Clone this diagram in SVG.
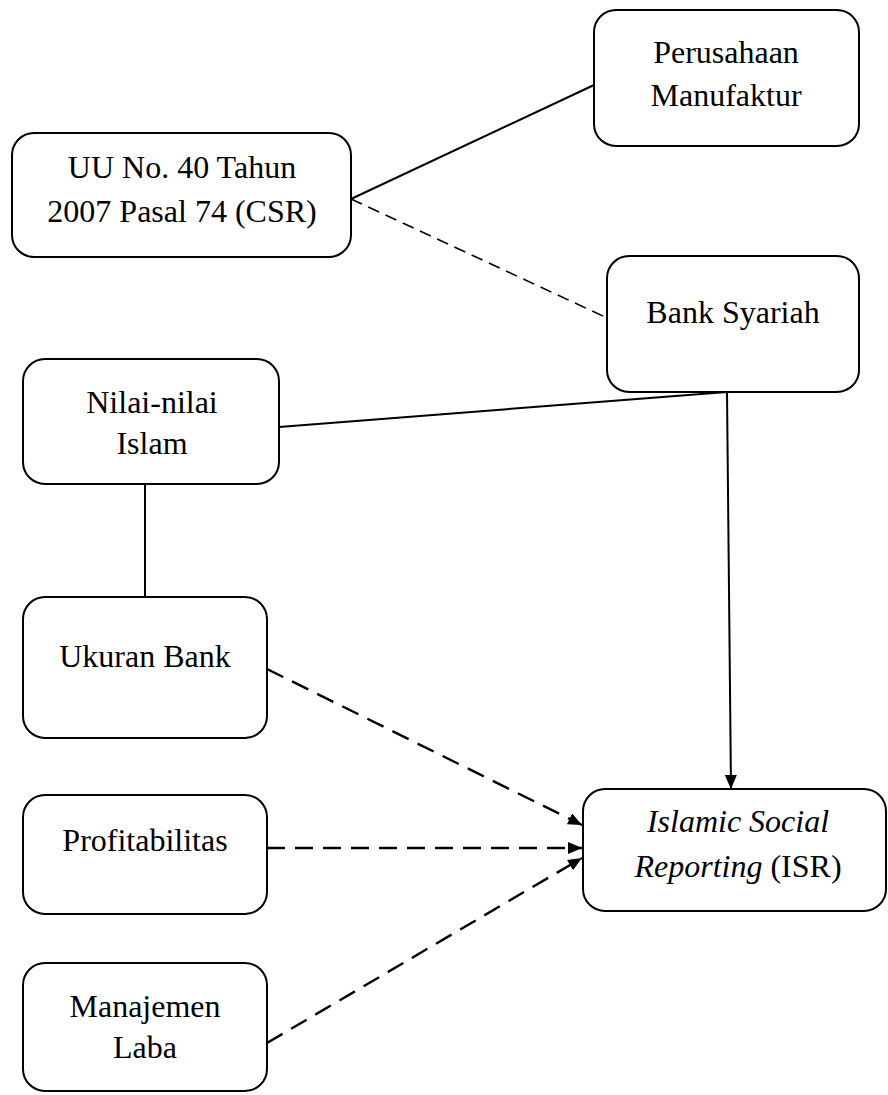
<svg xmlns="http://www.w3.org/2000/svg" width="888" height="1095" viewBox="0 0 888 1095">
  <style>
    .box { fill: #ffffff; stroke: #000000; stroke-width: 2; }
    .lbl { font-family: "Liberation Serif", "Times New Roman", serif; font-size: 32px; fill: #000000; text-anchor: middle; }
    .it { font-style: italic; }
    .solid { stroke: #000000; stroke-width: 2; fill: none; }
    .dash1 { stroke: #000000; stroke-width: 1.6; fill: none; stroke-dasharray: 12 7; }
    .dash2 { stroke: #000000; stroke-width: 2.4; fill: none; stroke-dasharray: 18 10; }
  </style>
  <defs>
    <marker id="arr" viewBox="0 0 14 12" refX="14" refY="6" markerWidth="14" markerHeight="12" markerUnits="userSpaceOnUse" orient="auto">
      <path d="M0,0 L14,6 L0,12 Z" fill="#000000"/>
    </marker>
  </defs>
  <rect width="888" height="1095" fill="#ffffff"/>

  <g id="connectors">
    <line class="solid" x1="351" y1="199" x2="594" y2="85"/>
    <line class="dash1" x1="351" y1="199" x2="605" y2="317"/>
    <line class="solid" x1="279" y1="427" x2="727" y2="392"/>
    <line class="solid" x1="145" y1="484" x2="145" y2="597"/>
    <line class="solid" x1="727" y1="392" x2="731" y2="789" marker-end="url(#arr)"/>
    <line class="dash2" x1="267" y1="669" x2="582" y2="825" marker-end="url(#arr)"/>
    <line class="dash2" x1="267" y1="848" x2="582" y2="848" marker-end="url(#arr)"/>
    <line class="dash2" x1="267" y1="1043" x2="582" y2="858" marker-end="url(#arr)"/>
  </g>

  <g id="node-perusahaan">
    <rect class="box" x="594" y="10" width="265" height="136" rx="22"/>
    <text class="lbl" x="726" y="63">Perusahaan</text>
    <text class="lbl" x="726" y="106">Manufaktur</text>
  </g>

  <g id="node-uu">
    <rect class="box" x="12" y="133" width="339" height="124" rx="22"/>
    <text class="lbl" x="182" y="178">UU No. 40 Tahun</text>
    <text class="lbl" x="182" y="222">2007 Pasal 74 (CSR)</text>
  </g>

  <g id="node-bank-syariah">
    <rect class="box" x="607" y="256" width="252" height="136" rx="22"/>
    <text class="lbl" x="733" y="323">Bank Syariah</text>
  </g>

  <g id="node-nilai">
    <rect class="box" x="23" y="359" width="256" height="125" rx="22"/>
    <text class="lbl" x="152" y="413">Nilai-nilai</text>
    <text class="lbl" x="152" y="454">Islam</text>
  </g>

  <g id="node-ukuran">
    <rect class="box" x="23" y="597" width="244" height="141" rx="22"/>
    <text class="lbl" x="145" y="667">Ukuran Bank</text>
  </g>

  <g id="node-profitabilitas">
    <rect class="box" x="23" y="795" width="244" height="119" rx="22"/>
    <text class="lbl" x="145" y="851">Profitabilitas</text>
  </g>

  <g id="node-manajemen">
    <rect class="box" x="23" y="963" width="244" height="128" rx="22"/>
    <text class="lbl" x="145" y="1017">Manajemen</text>
    <text class="lbl" x="145" y="1058">Laba</text>
  </g>

  <g id="node-isr">
    <rect class="box" x="583" y="789" width="303" height="122" rx="22"/>
    <text class="lbl it" x="738" y="832">Islamic Social</text>
    <text class="lbl" x="738" y="877"><tspan class="it">Reporting</tspan> (ISR)</text>
  </g>
</svg>
